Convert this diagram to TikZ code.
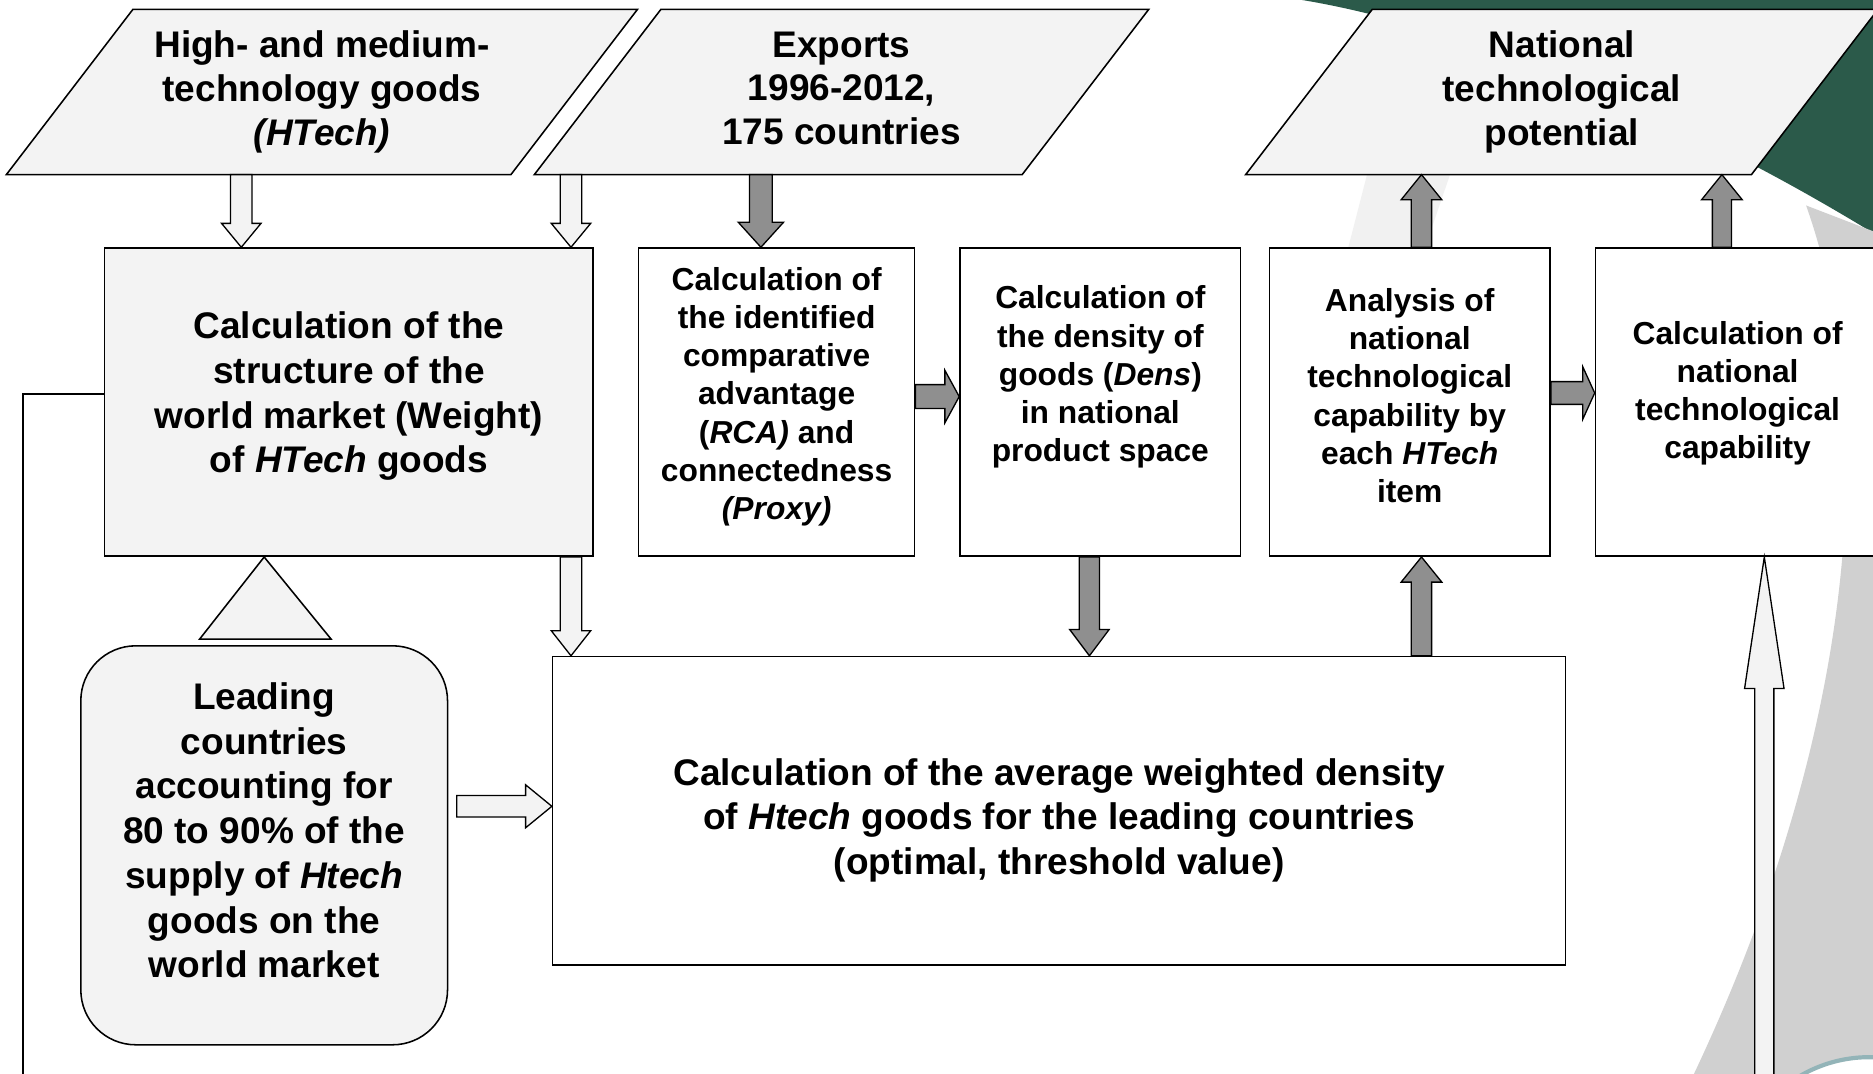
\documentclass[tikz,border=0pt]{standalone}
\usepackage{fontspec}
\setmainfont{Liberation Sans}
\usetikzlibrary{calc}
\pgfdeclarelayer{back}
\pgfdeclarelayer{bg}
\pgfsetlayers{back,bg,main}
\definecolor{lightfill}{HTML}{F3F3F3}
\definecolor{darkfill}{HTML}{8F8F8F}
\definecolor{decogreen}{HTML}{2B5A4A}
\definecolor{decogray}{HTML}{D0D0D0}
\definecolor{decofaint}{HTML}{F1F1F1}
\definecolor{decoteal}{HTML}{93B4B8}
% #1 style, #2 start, #3 tip, #4 shaft half width, #5 head half width, #6 head length
\newcommand\blockarrow[6]{%
  \coordinate (ba-s) at (#2);
  \coordinate (ba-t) at (#3);
  \coordinate (ba-h) at ($(ba-t)!#6!(ba-s)$);
  \draw[#1] ($(ba-s)!#4!90:(ba-t)$) -- ($(ba-h)!#4!90:(ba-t)$) -- ($(ba-h)!#5!90:(ba-t)$)
     -- (ba-t) -- ($(ba-h)!#5!-90:(ba-t)$) -- ($(ba-h)!#4!-90:(ba-t)$) -- ($(ba-s)!#4!-90:(ba-t)$) -- cycle;
}
\begin{document}
\begin{tikzpicture}[x=1pt,y=-1pt,
  rectbox/.style={draw=black, line width=1.3pt, inner sep=0pt, anchor=north west},
  paranode/.style={inner sep=0pt, minimum height=138pt, align=center, font=\fontsize{31}{36.5}\selectfont\bfseries},
  paradraw/.style={draw=black, line width=1.3pt, fill=lightfill},
  bigtxt/.style={font=\fontsize{31}{37.5}\selectfont\bfseries, align=center, inner sep=0pt},
  smalltxt/.style={font=\fontsize{26.6}{32}\selectfont\bfseries, align=center, inner sep=0pt},
  lightarrow/.style={draw=black, line width=1.1pt, fill=lightfill},
  darkarrow/.style={draw=black, line width=1.1pt, fill=darkfill},
  connector/.style={draw=black, line width=1.4pt}
]
\useasboundingbox (0,0) rectangle (1568,899);

% background decoration
\begin{pgfonlayer}{back}
  \fill[white] (0,0) rectangle (1568,899);
  \fill[decogreen] (1090,0) .. controls (1200,18) and (1380,80) .. (1568,195) -- (1590,195) -- (1590,-10) -- (1090,-10) -- cycle;
  \fill[decogray] (1512,172) -- (1590,202) -- (1590,920) -- (1408,920) .. controls (1555,620) and (1575,350) .. (1512,172) -- cycle;
  \fill[white] (1565,1000) circle (115pt);
  \draw[decoteal, line width=3.5pt] (1565,1000) circle (115pt);
  \fill[decofaint] (1146,140) -- (1216,140) -- (1192,210) -- (1128,210) -- cycle;
\end{pgfonlayer}

% helper coordinates
\coordinate (xa) at (202,0);
\coordinate (xb) at (478,0);
\coordinate (xf) at (637,0);
\coordinate (xh) at (912,0);
\coordinate (xi) at (1190,0);
\coordinate (xl) at (1441.5,0);
\coordinate (yd) at (0,675);
\coordinate (yg) at (0,332);
\coordinate (yk) at (0,329);
\coordinate (yl) at (0,330);
\coordinate (lbot) at (19,910);
\coordinate (ebot) at (1477,910);

% input / output parallelograms
\node[paranode, minimum width=422pt] (hte) at (269.5,77) {High- and medium-\\technology goods\\\textit{(HTech)}};
\node[paranode, minimum width=408pt] (exp) at (704.5,77) {Exports\\1996-2012,\\175 countries\vphantom{()}};
\node[paranode, minimum width=423pt] (ntp) at (1307.5,77) {National\\technological\\potential};
\begin{pgfonlayer}{bg}
  \foreach \p in {hte,exp,ntp}{
    \path[paradraw] ($(\p.south west)+(-53,0)$) -- ($(\p.south east)+(-53,0)$)
      -- ($(\p.north east)+(53,0)$) -- ($(\p.north west)+(53,0)$) -- cycle;
  }
\end{pgfonlayer}

% process boxes
\node[rectbox, fill=lightfill, minimum width=409pt, minimum height=258pt] (weight) at (87,207) {};
\node[rectbox, fill=white, minimum width=231pt, minimum height=258pt] (rca) at (534,207) {};
\node[rectbox, fill=white, minimum width=235pt, minimum height=258pt] (dens) at (803,207) {};
\node[rectbox, fill=white, minimum width=235pt, minimum height=258pt] (anal) at (1062,207) {};
\node[rectbox, fill=white, minimum width=238pt, minimum height=258pt] (calcn) at (1335,207) {};
\node[rectbox, fill=lightfill, rounded corners=46pt, minimum width=307pt, minimum height=334pt] (lead) at (67,540) {};
\node[rectbox, fill=white, minimum width=848pt, minimum height=258pt] (avg) at (462,549) {};

% texts
\node[bigtxt] (weight-t) at ($(weight.center)+(0,-5)$) {Calculation of the\\structure of the\\world market (Weight)\\of \textit{HTech} goods};
\node[smalltxt] (rca-t) at ($(rca.center)+(0,-4.5)$) {Calculation of\\the identified\\comparative\\advantage\\(\textit{RCA)} and\\connectedness\\\textit{(Proxy)}};
\node[smalltxt] (dens-t) at ($(dens.center)+(0,-21)$) {Calculation of\\the density of\\goods (\textit{Dens})\\in national\\product space};
\node[smalltxt] (anal-t) at ($(anal.center)+(0,-5.5)$) {Analysis of\\national\\technological\\capability by\\each \textit{HTech}\\item};
\node[smalltxt] (calcn-t) at ($(calcn.center)+(0,-7.5)$) {Calculation of\\national\\technological\\capability};
\node[bigtxt] (lead-t) at ($(lead.center)+(0,-12.5)$) {Leading\\countries\\accounting for\\80 to 90\% of the\\supply of \textit{Htech}\\goods on the\\world market};
\node[bigtxt] (avg-t) at ($(avg.center)+(0,8)$) {Calculation of the average weighted density\\of \textit{Htech} goods for the leading countries\\(optimal, threshold value)};

% triangle between weight box and leading countries
\draw[line width=1.3pt, fill=lightfill] (lead.north |- weight.south) -- ($(lead.north)+(56,-5)$) -- ($(lead.north)+(-54,-5)$) -- cycle;

% left connector line
\draw[connector] (weight.west |- yl) -- (lbot |- yl) -- (lbot);

% light block arrows
\blockarrow{lightarrow}{hte.south -| xa}{weight.north -| xa}{9pt}{16.5pt}{20pt}
\blockarrow{lightarrow}{exp.south -| xb}{weight.north -| xb}{9pt}{16.5pt}{20pt}
\blockarrow{lightarrow}{weight.south -| xb}{avg.north -| xb}{9pt}{16.5pt}{21pt}
\blockarrow{lightarrow}{$(lead.east |- yd)+(7,0)$}{avg.west |- yd}{9pt}{18pt}{22pt}
\blockarrow{lightarrow}{ebot}{calcn.south -| ebot}{8pt}{16.5pt}{110pt}

% dark block arrows
\blockarrow{darkarrow}{exp.south -| xf}{rca.north -| xf}{9.5pt}{19pt}{21pt}
\blockarrow{darkarrow}{rca.east |- yg}{dens.west |- yg}{10pt}{22pt}{12pt}
\blockarrow{darkarrow}{dens.south -| xh}{avg.north -| xh}{8.5pt}{16.5pt}{22pt}
\blockarrow{darkarrow}{avg.north -| xi}{anal.south -| xi}{8.5pt}{17pt}{21pt}
\blockarrow{darkarrow}{anal.north -| xi}{ntp.south -| xi}{8.5pt}{17pt}{21pt}
\blockarrow{darkarrow}{anal.east |- yk}{calcn.west |- yk}{9.5pt}{22pt}{10pt}
\blockarrow{darkarrow}{calcn.north -| xl}{ntp.south -| xl}{8pt}{17pt}{21pt}
\end{tikzpicture}
\end{document}
